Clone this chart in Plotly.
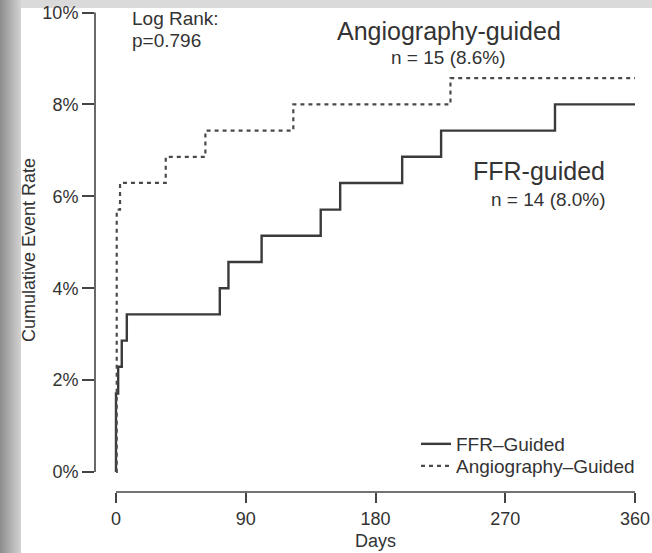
import plotly.graph_objects as go

# Kaplan-Meier cumulative event rate (%) at each event day
ffr_days = [0, 1.5, 4, 7.5, 72, 78, 101, 142, 155.5, 198.5, 225.5, 304.5]
ffr_rate = [1.71, 2.29, 2.86, 3.43, 4.00, 4.57, 5.14, 5.71, 6.29, 6.86, 7.43, 8.00]
angio_days = [0.5, 2.8, 34.5, 62, 123, 232]
angio_rate = [5.71, 6.29, 6.86, 7.43, 8.00, 8.57]
follow_up_end = 360

x_ticks = [0, 90, 180, 270, 360]
y_ticks = [0, 2, 4, 6, 8, 10]
y_tick_text = [f"{v}%" for v in y_ticks]

FONT = "Liberation Sans, Arial, Helvetica, sans-serif"
INK = "#333333"
LINE = "#444444"

W, H = 652, 553
ML, MB = 95, 61


def step_series(days, rates):
    xs = [0] + list(days) + [follow_up_end]
    ys = [0] + list(rates) + [rates[-1]]
    return xs, ys


fig = go.Figure()

fx, fy = step_series(ffr_days, ffr_rate)
ax, ay = step_series(angio_days, angio_rate)

fig.add_trace(go.Scatter(
    x=fx, y=fy, mode="lines", name="FFR\u2013Guided",
    line=dict(shape="hv", color="#3a3a3a", width=2.4),
    hoverinfo="skip", legend="legend",
))
fig.add_trace(go.Scatter(
    x=ax, y=ay, mode="lines", name="Angiography\u2013Guided",
    line=dict(shape="hv", color="#4a4a4a", width=2.2, dash="4px,4px"),
    hoverinfo="skip", legend="legend2",
))

# px -> paper helpers for decoration outside the plot area
pw = W - ML
ph = H - MB


def px_x(px):
    return (px - ML) / pw


def px_y(py):
    return (ph - py) / ph


shapes = []
# soft gray edge on the left of the page
for i in range(21):
    g = int(0x8e + (0xd2 - 0x8e) * i / 20)
    shapes.append(dict(
        type="rect", xref="paper", yref="paper", layer="below",
        x0=px_x(i), x1=px_x(i + 1), y0=px_y(H), y1=px_y(0),
        line=dict(width=0), fillcolor=f"rgb({g},{g},{g})",
    ))
# light gray band along the top
shapes.append(dict(
    type="rect", xref="paper", yref="paper", layer="below",
    x0=px_x(21), x1=1, y0=px_y(8), y1=px_y(0),
    line=dict(width=0), fillcolor="#dadada",
))

# detached axis lines spanning the tick range only
shapes.append(dict(
    type="line", xref="paper", yref="y", x0=0, x1=0,
    y0=y_ticks[0], y1=y_ticks[-1], line=dict(color=LINE, width=1.6),
))
shapes.append(dict(
    type="line", xref="x", yref="paper", x0=x_ticks[0], x1=x_ticks[-1],
    y0=0, y1=0, line=dict(color=LINE, width=1.6),
))

annotations = [
    dict(text="Log Rank:", x=9.7, y=9.86, xref="x", yref="y",
         xanchor="left", yanchor="middle", showarrow=False,
         font=dict(family=FONT, size=19, color=INK)),
    dict(text="p=0.796", x=9.7, y=9.38, xref="x", yref="y",
         xanchor="left", yanchor="middle", showarrow=False,
         font=dict(family=FONT, size=19, color=INK)),
    dict(text="Angiography-guided", x=231, y=9.6, xref="x", yref="y",
         xanchor="center", yanchor="middle", showarrow=False,
         font=dict(family=FONT, size=25, color=INK)),
    dict(text="n = 15 (8.6%)", x=230.3, y=9.01, xref="x", yref="y",
         xanchor="center", yanchor="middle", showarrow=False,
         font=dict(family=FONT, size=19, color=INK)),
    dict(text="FFR-guided", x=293.4, y=6.55, xref="x", yref="y",
         xanchor="center", yanchor="middle", showarrow=False,
         font=dict(family=FONT, size=25, color=INK)),
    dict(text="n = 14 (8.0%)", x=300.3, y=5.94, xref="x", yref="y",
         xanchor="center", yanchor="middle", showarrow=False,
         font=dict(family=FONT, size=19, color=INK)),
    dict(text="Cumulative Event Rate", x=px_x(29), y=px_y(250),
         xref="paper", yref="paper", textangle=-90,
         xanchor="center", yanchor="middle", showarrow=False,
         font=dict(family=FONT, size=18, color=INK)),
    dict(text="Days", x=180, y=px_y(541), xref="x", yref="paper",
         xanchor="center", yanchor="middle", showarrow=False,
         font=dict(family=FONT, size=18, color=INK)),
]

px_per_day = (635 - 116) / 360
px_per_pct = (472 - 12.5) / 10

legend_style = dict(
    xanchor="left", yanchor="top",
    bgcolor="rgba(0,0,0,0)", borderwidth=0,
    font=dict(family=FONT, size=19, color=INK),
    itemwidth=30,
)

fig.update_layout(
    width=W, height=H,
    margin=dict(l=ML, r=0, t=0, b=MB, pad=0),
    paper_bgcolor="white",
    plot_bgcolor="rgba(0,0,0,0)",
    shapes=shapes,
    annotations=annotations,
    showlegend=True,
    legend=dict(x=px_x(416), y=px_y(425), **legend_style),
    legend2=dict(x=px_x(416), y=px_y(447), **legend_style),
    xaxis=dict(
        range=[(ML - 116) / px_per_day, (W - 116) / px_per_day],
        tickvals=x_ticks, ticktext=[str(v) for v in x_ticks],
        ticks="outside", ticklen=10, tickwidth=1.6, tickcolor=LINE,
        showline=False, showgrid=False, zeroline=False,
        tickfont=dict(family=FONT, size=18, color=INK),
        fixedrange=True,
    ),
    yaxis=dict(
        range=[(472 - ph) / px_per_pct, 472 / px_per_pct],
        tickvals=y_ticks, ticktext=y_tick_text,
        ticks="outside", ticklen=12, tickwidth=1.6, tickcolor=LINE,
        showline=False, showgrid=False, zeroline=False,
        tickfont=dict(family=FONT, size=18, color=INK),
        fixedrange=True,
    ),
)

fig.write_html("out.html")
